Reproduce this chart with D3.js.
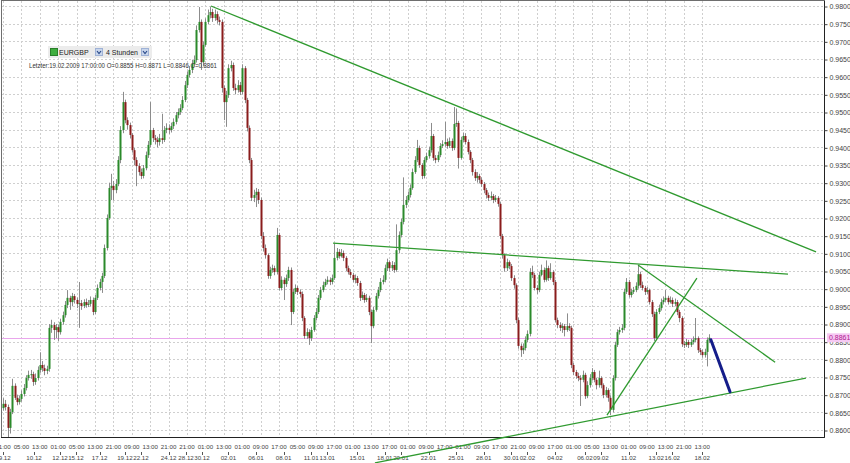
<!DOCTYPE html>
<html><head><meta charset="utf-8">
<script src="https://cdn.jsdelivr.net/npm/d3@7"></script>
<style>html,body{margin:0;padding:0;background:#fff;} svg{display:block;}</style>
</head><body>
<svg id="chart" width="850" height="463"></svg>
<script>
// ---------- DATA ----------
const firstOpen = 0.8662;
const closes = [
.8674,.8665,.8606,.8651,.8725,.8691,.8679,.8688,.8702,.8719,
.8747,.8756,.8758,.8736,.8747,.8770,.8784,.8775,.8767,.8773,
.8889,.8897,.8883,.8891,.8877,.8906,.8925,.8954,.8974,.8962,
.8979,.8968,.8957,.8959,.8951,.8962,.8954,.8957,.8968,.8934,
.8974,.9002,.9019,.9036,.9115,.9200,.9285,.9291,.9279,.9296,
.9364,.9449,.9528,.9477,.9463,.9435,.9392,.9364,.9347,.9330,
.9319,.9341,.9378,.9407,.9449,.9426,.9421,.9415,.9426,.9421,
.9449,.9455,.9449,.9460,.9472,.9491,.9500,.9511,.9534,.9576,
.9605,.9619,.9636,.9647,.9732,.9755,.9641,.9690,.9755,.9774,
.9783,.9766,.9777,.9760,.9755,.9568,.9528,.9548,.9624,.9633,
.9568,.9562,.9576,.9557,.9624,.9534,.9455,.9364,.9257,.9265,
.9274,.9251,.9149,.9115,.9095,.9036,.9053,.9058,.9047,.9152,
.9002,.9025,.9013,.9030,.9053,.8934,.8991,.9002,.8991,.8985,
.8917,.8866,.8877,.8860,.8883,.8917,.8934,.8974,.8996,.9010,
.9019,.9025,.9019,.9030,.9087,.9104,.9092,.9101,.9087,.9058,
.9047,.9039,.9025,.9030,.9016,.8974,.8982,.8968,.8974,.8934,
.8894,.8940,.8979,.8996,.9019,.9025,.9058,.9075,.9058,.9067,
.9053,.9109,.9152,.9189,.9237,.9251,.9265,.9285,.9330,.9364,
.9398,.9350,.9319,.9364,.9375,.9392,.9432,.9370,.9364,.9378,
.9404,.9409,.9415,.9404,.9418,.9398,.9466,.9469,.9370,.9421,
.9432,.9415,.9387,.9364,.9330,.9313,.9319,.9308,.9296,.9279,
.9265,.9257,.9262,.9251,.9257,.9240,.9149,.9095,.9058,.9075,
.9064,.9030,.9010,.8911,.8838,.8826,.8832,.8855,.8872,.9047,
.9039,.9002,.8996,.9039,.9053,.9025,.9058,.9030,.9047,.9019,
.8911,.8897,.8889,.8894,.8883,.8894,.8889,.8784,.8764,.8753,
.8747,.8742,.8756,.8696,.8727,.8747,.8764,.8742,.8727,.8747,
.8727,.8699,.8713,.8691,.8657,.8747,.8841,.8877,.8883,.8889,
.8991,.9019,.8982,.8991,.8996,.9008,.9041,.9010,.9002,.8991,
.8996,.8962,.8928,.8860,.8934,.8945,.8962,.8968,.8974,.8962,
.8968,.8957,.8962,.8934,.8917,.8843,.8841,.8849,.8841,.8849,
.8855,.8860,.8826,.8821,.8812,.8821,.8855,.8861];
const highs = [
.8690,.8685,.8672,.8660,.8745,.8732,.8700,.8698,.8712,.8730,
.8755,.8768,.8770,.8765,.8760,.8780,.8820,.8795,.8785,.8782,
.8900,.8912,.8905,.8900,.8898,.8915,.8935,.8965,.8996,.8980,
.8988,.8985,.8975,.9019,.8968,.8970,.8972,.8968,.8978,.8975,
.8982,.9012,.9028,.9045,.9125,.9210,.9300,.9325,.9305,.9310,
.9375,.9460,.9557,.9535,.9485,.9470,.9440,.9398,.9372,.9355,
.9340,.9350,.9388,.9418,.9528,.9455,.9435,.9430,.9438,.9495,
.9460,.9468,.9465,.9470,.9482,.9500,.9510,.9522,.9545,.9588,
.9615,.9630,.9648,.9660,.9745,.9797,.9762,.9700,.9765,.9790,
.9798,.9792,.9790,.9785,.9770,.9762,.9575,.9560,.9635,.9645,
.9640,.9580,.9590,.9585,.9635,.9630,.9540,.9462,.9370,.9280,
.9285,.9282,.9258,.9160,.9125,.9100,.9062,.9068,.9065,.9172,
.9158,.9035,.9032,.9040,.9062,.9060,.9000,.9012,.9008,.8998,
.8992,.8922,.8888,.8885,.8892,.8925,.8945,.8982,.9005,.9020,
.9028,.9035,.9032,.9040,.9128,.9115,.9112,.9112,.9108,.9092,
.9065,.9055,.9045,.9040,.9036,.9022,.8992,.8988,.8985,.8980,
.8940,.8948,.8988,.9005,.9030,.9038,.9068,.9085,.9080,.9078,
.9075,.9182,.9162,.9198,.9315,.9262,.9275,.9295,.9340,.9375,
.9421,.9405,.9355,.9372,.9385,.9402,.9469,.9438,.9378,.9388,
.9412,.9420,.9472,.9425,.9428,.9425,.9514,.9510,.9475,.9430,
.9442,.9440,.9422,.9392,.9370,.9338,.9330,.9325,.9315,.9302,
.9285,.9272,.9275,.9268,.9265,.9262,.9245,.9155,.9100,.9085,
.9080,.9070,.9038,.9015,.8918,.8845,.8845,.8865,.8882,.9058,
.9065,.9045,.9010,.9048,.9068,.9060,.9080,.9065,.9072,.9052,
.9025,.8918,.8905,.8902,.8900,.8930,.8902,.8895,.8790,.8770,
.8762,.8755,.8768,.8762,.8738,.8758,.8775,.8770,.8748,.8768,
.8752,.8732,.8722,.8718,.8698,.8755,.8850,.8885,.8892,.8900,
.9000,.9030,.9025,.9000,.9005,.9018,.9067,.9048,.9020,.9008,
.9005,.9000,.8968,.8935,.8942,.8955,.8972,.8978,.8996,.8980,
.8978,.8975,.8972,.8968,.8940,.8922,.8852,.8858,.8855,.8858,
.8865,.8917,.8865,.8832,.8828,.8830,.8862,.8871];
const lows = [
.8655,.8655,.8580,.8590,.8645,.8685,.8670,.8672,.8680,.8695,
.8712,.8740,.8745,.8725,.8728,.8740,.8762,.8765,.8755,.8758,
.8765,.8875,.8855,.8860,.8852,.8870,.8898,.8918,.8945,.8940,
.8950,.8958,.8945,.8889,.8940,.8945,.8946,.8948,.8950,.8925,
.8928,.8968,.8995,.8988,.9030,.9108,.9195,.9251,.9250,.9270,
.9290,.9355,.9440,.9468,.9450,.9425,.9385,.9350,.9290,.9320,
.9310,.9312,.9335,.9370,.9400,.9415,.9408,.9400,.9405,.9410,
.9415,.9440,.9438,.9442,.9452,.9465,.9482,.9492,.9505,.9528,
.9568,.9598,.9610,.9628,.9640,.9725,.9619,.9630,.9685,.9748,
.9765,.9755,.9758,.9750,.9745,.9555,.9477,.9458,.9540,.9615,
.9560,.9550,.9555,.9548,.9550,.9525,.9445,.9355,.9248,.9245,
.9231,.9240,.9140,.9105,.9085,.9028,.9028,.9045,.9038,.9040,
.8995,.8995,.8968,.9005,.9022,.8897,.8928,.8985,.8982,.8975,
.8908,.8858,.8858,.8841,.8852,.8878,.8910,.8928,.8968,.8990,
.9005,.9012,.9010,.9012,.9025,.9080,.9085,.9088,.9078,.9050,
.9040,.9030,.9018,.9015,.9008,.8965,.8968,.8960,.8962,.8925,
.8846,.8888,.8935,.8972,.8990,.9012,.9018,.9050,.9048,.9050,
.9045,.9048,.9100,.9145,.9182,.9228,.9245,.9258,.9280,.9325,
.9358,.9342,.9310,.9312,.9358,.9368,.9385,.9362,.9355,.9358,
.9372,.9398,.9402,.9396,.9398,.9390,.9392,.9458,.9340,.9365,
.9415,.9408,.9380,.9355,.9320,.9305,.9300,.9298,.9288,.9270,
.9255,.9248,.9250,.9242,.9245,.9232,.9140,.9085,.9048,.9050,
.9055,.9022,.9000,.8902,.8830,.8807,.8815,.8825,.8848,.8865,
.9030,.8995,.8985,.8990,.9035,.9018,.9020,.9022,.9025,.9010,
.8905,.8888,.8880,.8875,.8865,.8878,.8880,.8775,.8755,.8745,
.8738,.8668,.8735,.8688,.8690,.8720,.8740,.8735,.8715,.8720,
.8718,.8690,.8692,.8680,.8642,.8650,.8740,.8835,.8870,.8875,
.8882,.8985,.8975,.8975,.8985,.8990,.9000,.9002,.8995,.8982,
.8985,.8955,.8920,.8852,.8855,.8928,.8938,.8955,.8962,.8955,
.8958,.8948,.8950,.8925,.8905,.8835,.8832,.8835,.8832,.8835,
.8842,.8848,.8818,.8812,.8805,.8805,.8780,.8846];

const yTickValues = [0.9800,0.9750,0.9700,0.9650,0.9600,0.9550,0.9500,0.9450,0.9400,0.9350,0.9300,0.9250,
  0.9200,0.9150,0.9100,0.9050,0.9000,0.8950,0.8900,0.8850,0.8800,0.8750,0.8700,0.8650,0.8600];
const gridEveryBars = 8;
const timeLabels = ["01:00","05:00","13:00","01:00","05:00","13:00","21:00","09:00","13:00","21:00",
  "21:00","01:00","13:00","01:00","09:00","17:00","05:00","09:00","17:00","01:00",
  "13:00","17:00","01:00","09:00","17:00","01:00","09:00","17:00","21:00","09:00",
  "17:00","01:00","05:00","13:00","01:00","09:00","13:00","21:00","13:00"];
const dateLabels = ["09.12","10.12","12.12","15.12","17.12","19.12","22.12","24.12","28.12","30.12",
  "02.01","06.01","08.01","11.01","13.01","15.01","18.01","20.01","22.01","25.01",
  "28.01","30.01","02.02","04.02","06.02","09.02","11.02","13.02","16.02","18.02"];
const dateLabelBars = [0,13.5,24.8,31.7,42,53,60,72,79.6,86.5,
  98,110,122,134,141,154,166,173,185,197,
  209,221,228,240,253,260,272,284,291,304];
// trend lines: [bar, price] pairs
const trendFrom = [[90.4,0.9800],[143.5,0.9129],[276.1,0.9067],[262.6,0.8642],[161.7,0.8507]];
const trendTo   = [[353.5,0.9104],[341.3,0.9041],[335.7,0.8792],[301.7,0.9030],[349.1,0.8747]];
const arrowFrom = [307.8,0.8855];
const arrowTo   = [316.1,0.8708];
const lastPrice = 0.8861;
const symbolName = "EURGBP";
const periodName = "4 Stunden";
const infoText = "Letzter:19.02.2009 17:00:00 O=0.8855 H=0.8871 L=0.8846 C=0.8861";

// ---------- CHART ----------
const svg = d3.select("#chart");
const W = 850, H = 463;
const plot = {left: 1, top: 1, right: 824, bottom: 437};
const N = closes.length;
const opens = closes.map((c, i) => i === 0 ? firstOpen : closes[i - 1]);

const x = d3.scaleLinear().domain([0, N - 1]).range([3, 709.1]);
const y = d3.scaleLinear().domain([0.86, 0.98]).range([430, 6]);

const font = "'Liberation Sans', Arial, sans-serif";

svg.append("rect").attr("width", W).attr("height", H).attr("fill", "#fff");

// grid
const gridG = svg.append("g").attr("stroke", "#cfcfcf").attr("stroke-dasharray", "2,2").attr("stroke-width", 1);
gridG.selectAll("line.h").data(yTickValues).join("line")
  .attr("x1", plot.left).attr("x2", plot.right)
  .attr("y1", d => Math.round(y(d)) + 0.5).attr("y2", d => Math.round(y(d)) + 0.5);
const gridBars = d3.range(0, N, gridEveryBars);
gridG.selectAll("line.v").data(gridBars).join("line")
  .attr("x1", d => Math.round(x(d)) + 0.5).attr("x2", d => Math.round(x(d)) + 0.5)
  .attr("y1", plot.top).attr("y2", plot.bottom);

// current price line
svg.append("line").attr("x1", plot.left).attr("x2", plot.right)
  .attr("y1", Math.round(y(lastPrice)) + 0.5).attr("y2", Math.round(y(lastPrice)) + 0.5)
  .attr("stroke", "#e9a6ec").attr("stroke-width", 1);

// candles
const cg = svg.append("g");
const idx = d3.range(N);
cg.selectAll("line.w").data(idx).join("line")
  .attr("x1", i => Math.round(x(i)) + 0.5).attr("x2", i => Math.round(x(i)) + 0.5)
  .attr("y1", i => y(highs[i])).attr("y2", i => y(lows[i]))
  .attr("stroke", "#8c8c8c").attr("stroke-width", 1);
cg.selectAll("rect.b").data(idx).join("rect")
  .attr("x", i => Math.round(x(i)) - 0.5)
  .attr("width", 2)
  .attr("y", i => y(Math.max(opens[i], closes[i])))
  .attr("height", i => Math.max(1, Math.abs(y(opens[i]) - y(closes[i]))))
  .attr("fill", i => closes[i] >= opens[i] ? "#2b8a2b" : "#8a1c1c");

// frame
svg.append("rect").attr("x", plot.left + 0.5).attr("y", plot.top - 0.5)
  .attr("width", plot.right - plot.left).attr("height", plot.bottom - plot.top + 1)
  .attr("fill", "none").attr("stroke", "#6e6e6e").attr("stroke-width", 1);
svg.append("line").attr("x1", plot.right + 0.5).attr("x2", plot.right + 0.5)
  .attr("y1", plot.top).attr("y2", plot.bottom + 0.5).attr("stroke", "#222");
svg.append("line").attr("x1", plot.left).attr("x2", plot.right + 0.5)
  .attr("y1", plot.bottom + 0.5).attr("y2", plot.bottom + 0.5).attr("stroke", "#222");

// y axis
const yAxis = d3.axisRight(y).tickValues(yTickValues).tickSize(3).tickPadding(2)
  .tickFormat(d3.format(".4f"));
const yg = svg.append("g").attr("transform", `translate(${plot.right + 0.5},0.5)`).call(yAxis);
yg.select(".domain").remove();
yg.selectAll("text").attr("font-family", font).attr("font-size", 7).attr("fill", "#444");
yg.selectAll("line").attr("stroke", "#444");

// last price tag
const ly = y(lastPrice);
svg.append("rect").attr("x", plot.right + 3).attr("y", ly - 4.5).attr("width", 24).attr("height", 9)
  .attr("fill", "#f6c8f3");
svg.append("text").attr("x", plot.right + 5).attr("y", ly + 2.5).text(d3.format(".4f")(lastPrice))
  .attr("font-family", font).attr("font-size", 7).attr("fill", "#b0208f");

// x axis labels
const xg = svg.append("g").attr("font-family", font).attr("font-size", 6.2).attr("fill", "#444");
xg.selectAll("text.t").data(timeLabels).join("text")
  .attr("x", (d, k) => x(k * gridEveryBars)).attr("y", 449)
  .attr("text-anchor", "middle").text(d => d);
xg.selectAll("text.d").data(dateLabels).join("text")
  .attr("x", (d, k) => x(dateLabelBars[k])).attr("y", 460)
  .attr("text-anchor", "middle").text(d => d);
svg.append("g").selectAll("line").data(dateLabelBars).join("line")
  .attr("x1", d => Math.round(x(d)) + 0.5).attr("x2", d => Math.round(x(d)) + 0.5)
  .attr("y1", 452).attr("y2", 455).attr("stroke", "#555");

// trend lines
const tg = svg.append("g");
tg.selectAll("line").data(trendFrom).join("line")
  .attr("x1", d => x(d[0])).attr("y1", d => y(d[1]))
  .attr("x2", (d, k) => x(trendTo[k][0])).attr("y2", (d, k) => y(trendTo[k][1]))
  .attr("stroke", "#2f9a2f").attr("stroke-width", 1.3);
svg.append("line").attr("x1", x(arrowFrom[0])).attr("y1", y(arrowFrom[1]))
  .attr("x2", x(arrowTo[0])).attr("y2", y(arrowTo[1]))
  .attr("stroke", "#151d8a").attr("stroke-width", 3).attr("stroke-linecap", "round");

// header
const hg = svg.append("g");
hg.append("rect").attr("x", 48).attr("y", 46).attr("width", 104).attr("height", 12).attr("fill", "#ececec");
hg.append("rect").attr("x", 50.5).attr("y", 48.5).attr("width", 7).attr("height", 7).attr("fill", "#3fae3f").attr("stroke", "#2a7f2a");
hg.append("text").attr("x", 59).attr("y", 55).text(symbolName).attr("font-family", font).attr("font-size", 7).attr("fill", "#222");
[95.5, 141.5].forEach(px => {
  hg.append("rect").attr("x", px).attr("y", 48.5).attr("width", 7).attr("height", 7).attr("fill", "#c9d6ec").attr("stroke", "#9fb2d6");
  hg.append("path").attr("d", `M${px + 1.5},${51} L${px + 3.5},${53.5} L${px + 5.5},${51}`).attr("fill", "none").attr("stroke", "#2a4a8a").attr("stroke-width", 1.2);
});
hg.append("text").attr("x", 106).attr("y", 55).text(periodName).attr("font-family", font).attr("font-size", 7).attr("fill", "#222");
hg.append("text").attr("x", 29).attr("y", 68).text(infoText).attr("font-family", font).attr("font-size", 7).attr("fill", "#333")
  .attr("textLength", 188).attr("lengthAdjust", "spacingAndGlyphs");
</script>
</body></html>
